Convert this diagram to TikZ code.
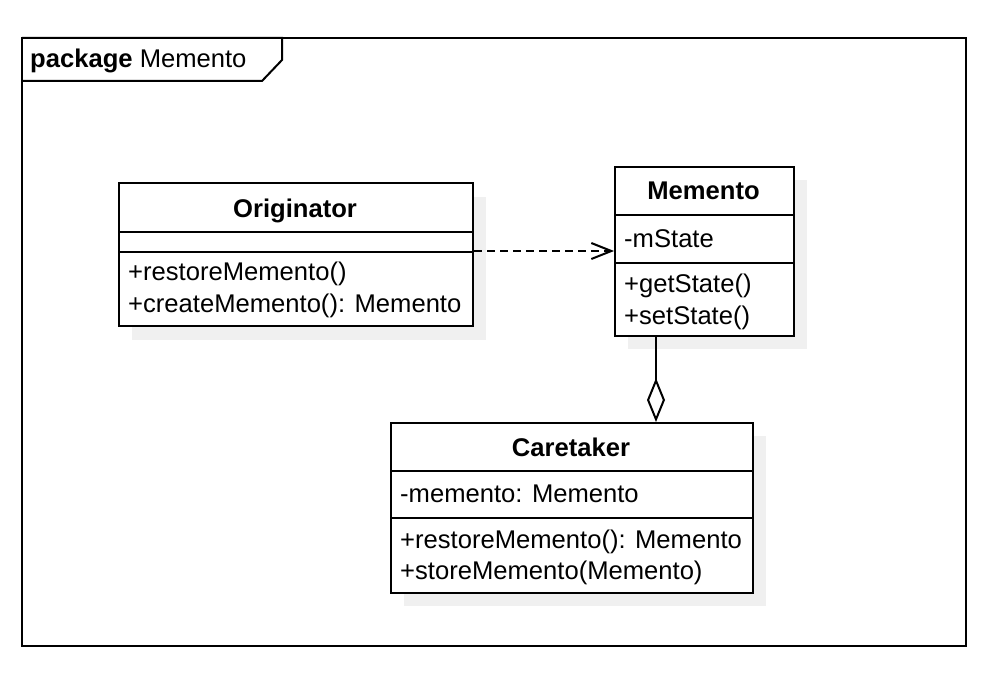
\documentclass[tikz,border=0pt]{standalone}
\usepackage{fontspec}
\setmainfont{Liberation Sans}
\usetikzlibrary{arrows.meta,calc}
\definecolor{shadowgray}{HTML}{F0F0F0}
\tikzset{
  box/.style={draw=black, line width=2pt, fill=white, inner sep=0pt, anchor=north west},
  shadowbox/.style={fill=shadowgray, draw=none, inner sep=0pt, anchor=north west},
  txt/.style={anchor=base west, inner sep=0pt, font=\fontsize{25.6}{32}\selectfont},
  ttl/.style={anchor=base, inner sep=0pt, font=\fontsize{25.6}{32}\selectfont\bfseries},
  divider/.style={line width=2pt},
  depend/.style={line width=2pt, dash pattern=on 8pt off 5pt, -{Straight Barb[length=20pt,width=16pt,line width=2pt]}},
  aggr/.style={line width=2pt, -{Diamond[open,length=44pt,width=18pt,line width=2pt]}}
}
\begin{document}
\begin{tikzpicture}[x=1pt,y=-1pt]
\useasboundingbox (0,0) rectangle (998,682);
% package frame
\draw[line width=2pt] (22,38) rectangle (966,646);
\draw[line width=2pt] (22,38) -- (282,38) -- (282,60) -- (262,81) -- (22,81);
\node[txt] (pkg) at (30,68) {\textbf{package} Memento};
% shadows
\node[shadowbox, minimum width=354pt, minimum height=143pt] (origsh) at (132,197) {};
\node[shadowbox, minimum width=179pt, minimum height=169pt] (memsh) at (628,180) {};
\node[shadowbox, minimum width=362pt, minimum height=170pt] (caresh) at (404,436) {};
% Originator
\node[box, minimum width=354pt, minimum height=143pt] (orig) at (118,182) {};
\draw[divider] (118,232) -- (472,232);
\draw[divider] (118,252) -- (472,252);
\node[ttl] (origt) at (295,217) {Originator};
\node[txt] (orig1) at (128,280) {+restoreMemento()};
\node[txt] (orig2) at (128,312) {+createMemento(): Memento};
% Memento
\node[box, minimum width=179pt, minimum height=169pt] (mem) at (614,166) {};
\draw[divider] (614,215) -- (793,215);
\draw[divider] (614,263) -- (793,263);
\node[ttl] (memt) at (703.5,199) {Memento};
\node[txt] (mem1) at (624,247) {-mState};
\node[txt] (mem2) at (624,292) {+getState()};
\node[txt] (mem3) at (624,324) {+setState()};
% Caretaker
\node[box, minimum width=362pt, minimum height=170pt] (care) at (390,422) {};
\draw[divider] (390,471) -- (752,471);
\draw[divider] (390,518) -- (752,518);
\node[ttl] (caret) at (571,456) {Caretaker};
\node[txt] (care1) at (400,502) {-memento: Memento};
\node[txt] (care2) at (400,548) {+restoreMemento(): Memento};
\node[txt] (care3) at (400,579) {+storeMemento(Memento)};
% connectors
\draw[depend] (orig.east |- 0,251) -- (mem.west |- 0,251);
\draw[aggr] ($(mem.south west)+(42,0)$) -- ($(care.north west)+(266,0)$);
\end{tikzpicture}
\end{document}
